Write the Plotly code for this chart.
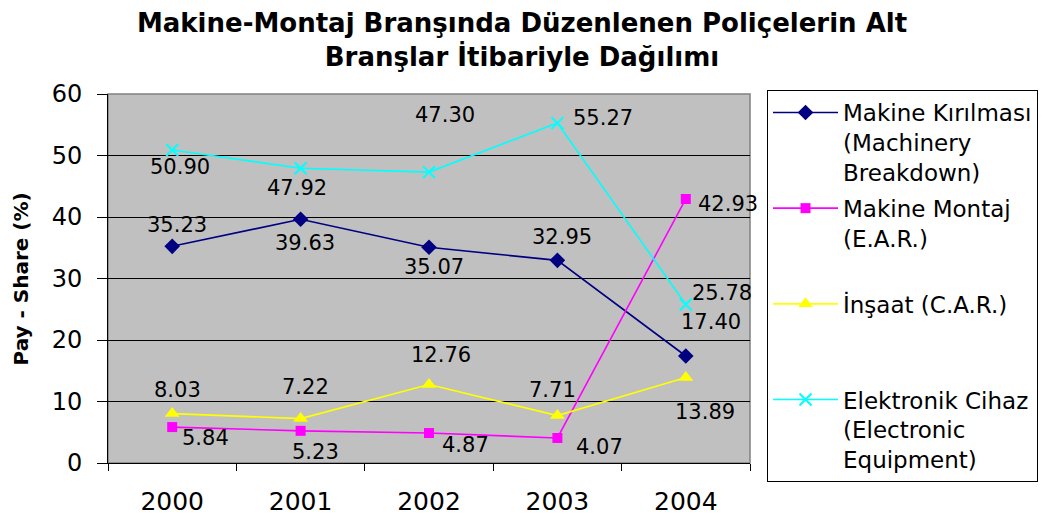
import plotly.graph_objects as go

# Data
years = ["2000", "2001", "2002", "2003", "2004"]
makine_kirilmasi = [35.23, 39.63, 35.07, 32.95, 17.40]
makine_montaj = [5.84, 5.23, 4.87, 4.07, 42.93]
insaat = [8.03, 7.22, 12.76, 7.71, 13.89]
elektronik_cihaz = [50.90, 47.92, 47.30, 55.27, 25.78]

series_names = [
    "Makine Kırılması<br>(Machinery<br>Breakdown)",
    "Makine Montaj<br>(E.A.R.)<br>&nbsp;",
    "İnşaat (C.A.R.)<br>&nbsp;<br>&nbsp;",
    "Elektronik Cihaz<br>(Electronic<br>Equipment)",
]
y_ticks = [0, 10, 20, 30, 40, 50, 60]

# Styling per series
styles = [
    dict(color="#000080", symbol="diamond", size=12, lw=1.6),
    dict(color="#FF00FF", symbol="square", size=10, lw=1.6),
    dict(color="#FFFF00", symbol="triangle-up", size=13, lw=1.6),
    dict(color="#00FFFF", symbol="x-thin-open", size=12, lw=1.6),
]

# Label offsets in pixels (dx right, dy down) for each point's value label
label_offsets = [
    [(5, -21), (4, 24), (5, 20), (5, -23), (25, -34)],
    [(33, 11), (15, 21), (36, 12), (42, 9), (42, 5)],
    [(5, -24), (5, -32), (12, -30), (-5, -26), (19, 34)],
    [(8, 17), (-4, 20), (16, -57), (46, -5), (36, -11)],
]

all_series = [makine_kirilmasi, makine_montaj, insaat, elektronik_cihaz]

fig = go.Figure()
for i, (vals, name, st) in enumerate(zip(all_series, series_names, styles)):
    marker = dict(symbol=st["symbol"], size=st["size"], color=st["color"])
    if st["symbol"].startswith("x-thin"):
        marker["line"] = dict(color=st["color"], width=2)
    fig.add_trace(go.Scatter(
        x=years, y=vals, name=name, mode="lines+markers",
        line=dict(color=st["color"], width=st["lw"]),
        marker=marker, legendgroup=f"g{i}",
    ))

# Value labels; on a category axis annotations use the category index
annotations = []
for vals, offs in zip(all_series, label_offsets):
    for idx, (v, (dx, dy)) in enumerate(zip(vals, offs)):
        annotations.append(dict(
            x=idx, y=v, xref="x", yref="y", text=f"{v:.2f}",
            showarrow=False, xshift=dx, yshift=-dy,
            font=dict(family="DejaVu Sans", size=21, color="black"),
        ))

# Rotated y-axis title
annotations.append(dict(
    x=-0.134, y=0.5, xref="paper", yref="paper", text="<b>Pay - Share (%)</b>",
    textangle=-90, showarrow=False, xshift=-15,
    font=dict(family="DejaVu Sans", size=20, color="black"),
))

fig.update_layout(
    width=1051, height=516,
    margin=dict(l=108, r=301, t=94, b=53, autoexpand=False),
    paper_bgcolor="white",
    plot_bgcolor="#C0C0C0",
    title=dict(
        text="Makine-Montaj Branşında Düzenlenen Poliçelerin Alt<br>Branşlar İtibariyle Dağılımı",
        x=522 / 1051, xanchor="center", xref="container",
        y=0.9385, yanchor="top", yref="container",
        font=dict(family="DejaVu Sans", size=26, color="black", weight="bold"),
    ),
    font=dict(family="DejaVu Sans", color="black"),
    showlegend=True,
    legend=dict(
        x=767 / 1051, xanchor="left", xref="container",
        y=1 - 90 / 516, yanchor="top", yref="container",
        bgcolor="white", bordercolor="black", borderwidth=1,
        font=dict(family="DejaVu Sans", size=23, color="black"),
        valign="top", tracegroupgap=3, itemwidth=65, maxheight=420,
    ),
    annotations=annotations,
)

fig.update_xaxes(
    type="category", range=[-0.5, 4.5],
    showline=True, linecolor="black", linewidth=1,
    ticks="outside", tickson="boundaries", ticklen=7, tickcolor="black",
    tickfont=dict(family="DejaVu Sans", size=25, color="black"),
    ticklabelstandoff=16, showgrid=False, zeroline=False,
)
fig.update_yaxes(
    range=[0, 60], tickvals=y_ticks,
    showline=True, linecolor="black", linewidth=1,
    ticks="outside", ticklen=10, tickcolor="black",
    tickfont=dict(family="DejaVu Sans", size=24, color="black"),
    ticklabelstandoff=10,
    showgrid=True, gridcolor="black", gridwidth=1, zeroline=False,
)

# Grey frame around the plotting area
fig.add_shape(type="rect", xref="paper", yref="paper", x0=0, y0=0, x1=1, y1=1,
              line=dict(color="#808080", width=1.5), layer="below")

fig.write_html("out.html")
